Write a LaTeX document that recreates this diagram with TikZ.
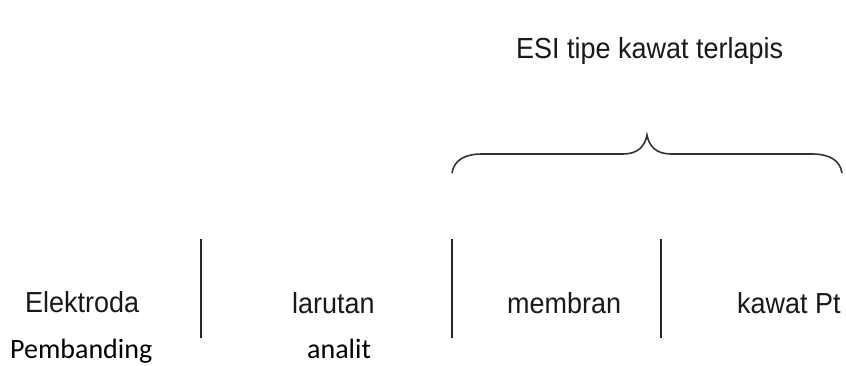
\documentclass[tikz,border=0pt]{standalone}
\usepackage{fontspec}
\setmainfont{Liberation Sans}
\newfontfamily\narrowarial[FakeStretch=0.93]{Liberation Sans}
\newfontfamily\calibrifont{Carlito}
\begin{document}
\begin{tikzpicture}[x=1pt,y=-1pt,
  arial/.style={font=\narrowarial\fontsize{29}{34}\selectfont, text=black!90, inner sep=0pt, anchor=base west},
  calib/.style={font=\calibrifont\fontsize{28}{33}\selectfont, text=black, inner sep=0pt, anchor=base west},
  sepline/.style={draw=black!85, line width=1.7pt},
  bracestyle/.style={draw=black!80, line width=1.6pt}]
\useasboundingbox[fill=white] (0,0) rectangle (846,365);

% labels
\node[arial] (esi) at (516,58) {ESI tipe kawat terlapis};
\node[arial] (elek) at (25,312) {Elektroda};
\node[arial] (lar) at (292,313) {larutan};
\node[arial] (mem) at (507,313) {membran};
\node[arial] (kaw) at (737,313) {kawat Pt};
\node[calib] (pemb) at (10,358) {Pembanding};
\node[calib] (anal) at (307,358) {analit};

% separators
\coordinate (s1t) at (201,239); \coordinate (s1b) at (201,338);
\coordinate (s2t) at (452,239); \coordinate (s2b) at (452,338);
\coordinate (s3t) at (661,239); \coordinate (s3b) at (661,338);
\draw[sepline] (s1t) -- (s1b);
\draw[sepline] (s2t) -- (s2b);
\draw[sepline] (s3t) -- (s3b);

% brace
\coordinate (bl) at (452,173);
\coordinate (bt) at (647,135);
\coordinate (br) at (842,173);
\draw[bracestyle] (bl) .. controls (454,160) and (465,154) .. (482,154) -- (623,154)
  .. controls (638,154) and (645,146) .. (bt)
  .. controls (649,146) and (656,154) .. (671,154) -- (812,154)
  .. controls (829,154) and (840,160) .. (br);
\end{tikzpicture}
\end{document}
